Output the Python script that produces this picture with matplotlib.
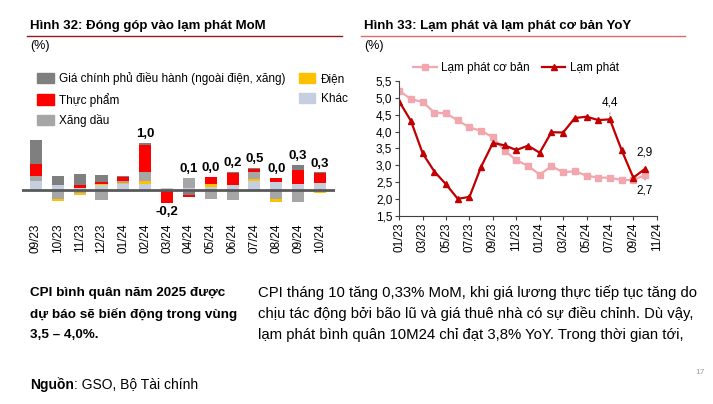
import matplotlib
matplotlib.use("Agg")
import matplotlib.pyplot as plt
import numpy as np
from matplotlib.patches import Patch
from matplotlib.lines import Line2D

W, H = 713, 404
plt.rcParams.update({"font.family": ["Liberation Sans", "DejaVu Sans"], "font.size": 8.5})

# ---- Hình 32: contributions to MoM inflation (pp) ----
months = ["09/23", "10/23", "11/23", "12/23", "01/24", "02/24", "03/24",
          "04/24", "05/24", "06/24", "07/24", "08/24", "09/24", "10/24"]
gia_cp = [0.52, 0.18, 0.26, 0.15, 0.03, 0.04, 0.00, -0.11, 0.00, 0.02, 0.02, 0.00, 0.11, 0.02]
thuc_pham = [0.27, 0.00, 0.05, 0.05, 0.10, 0.59, -0.30, -0.05, 0.15, 0.26, 0.07, 0.10, 0.30, 0.21]
xang_dau = [0.12, -0.20, -0.07, -0.24, 0.03, 0.22, 0.00, 0.21, -0.22, -0.24, 0.15, -0.22, -0.28, 0.00]
dien = [0.00, -0.06, -0.06, 0.02, 0.03, 0.05, 0.00, 0.00, 0.07, 0.00, 0.05, -0.05, 0.00, -0.07]
khac = [0.18, 0.11, 0.04, 0.10, 0.12, 0.13, 0.04, 0.04, 0.06, 0.11, 0.19, 0.16, 0.13, 0.15]
totals = [None, None, None, None, None, "1,0", "-0,2", "0,1", "0,0", "0,2", "0,5", "0,0", "0,3", "0,3"]

# ---- Hình 33: headline vs core inflation YoY (%) ----
cpi = [4.89, 4.31, 3.35, 2.81, 2.43, 2.00, 2.06, 2.96, 3.66, 3.59, 3.45, 3.58,
       3.37, 3.98, 3.97, 4.40, 4.44, 4.34, 4.36, 3.45, 2.63, 2.89]
core = [5.21, 4.96, 4.88, 4.56, 4.54, 4.33, 4.12, 4.02, 3.83, 3.43, 3.15, 2.98,
        2.72, 2.97, 2.79, 2.82, 2.69, 2.63, 2.63, 2.56, 2.56, 2.71]
line_ticks = ["01/23", "03/23", "05/23", "07/23", "09/23", "11/23",
              "01/24", "03/24", "05/24", "07/24", "09/24", "11/24"]

C_GCP, C_TP, C_XD, C_DIEN, C_KHAC = "#7F7F7F", "#FF0000", "#A6A6A6", "#FFC000", "#C6CFE0"


def fx(x):
    return x / W


def fy(y):
    return 1 - y / H


fig = plt.figure(figsize=(W / 100, H / 100), dpi=100)
fig.patch.set_facecolor("white")

# titles + rules
for x0, x1, txt, rc in [(30, 342, "Hình 32: Đóng góp vào lạm phát MoM", "#8E1B1F"),
                        (364, 685, "Hình 33: Lạm phát và lạm phát cơ bản YoY", "#E06A6A")]:
    fig.text(fx(x0), fy(26), txt, fontsize=9.5, fontweight="bold", va="center")
    fig.add_artist(Line2D([fx(x0 - 3), fx(x1)], [fy(36), fy(36)], color=rc, lw=1))
    fig.text(fx(x0), fy(46), "(%)", fontsize=9, va="center")

# ---- left: stacked bars ----
ax = fig.add_axes([fx(22), fy(218), fx(313), 93 / H])
x = np.arange(len(months))
pos_order = [(khac, C_KHAC), (dien, C_DIEN), (xang_dau, C_XD), (thuc_pham, C_TP), (gia_cp, C_GCP)]
neg_order = [(khac, C_KHAC), (gia_cp, C_GCP), (thuc_pham, C_TP), (xang_dau, C_XD), (dien, C_DIEN)]
pos_base = np.zeros(len(x))
neg_base = np.zeros(len(x))
for vals, c in pos_order:
    v = np.clip(np.array(vals), 0, None)
    ax.bar(x, v, bottom=pos_base, width=0.55, color=c, lw=0)
    pos_base += v
for vals, c in neg_order:
    v = np.clip(np.array(vals), None, 0)
    ax.bar(x, v, bottom=neg_base, width=0.55, color=c, lw=0)
    neg_base += v
ax.axhline(0, color="#595959", lw=2)
for i, t in enumerate(totals):
    if t is None:
        continue
    if t.startswith("-"):
        ax.annotate(t, (i, neg_base[i]), xytext=(0, -2), textcoords="offset points",
                    ha="center", va="top", fontsize=9.5, fontweight="bold")
    else:
        ax.annotate(t, (i, pos_base[i]), xytext=(0, 2), textcoords="offset points",
                    ha="center", va="bottom", fontsize=9.5, fontweight="bold")
ax.set_xlim(-0.64, 13.69)
ax.set_ylim(-0.63, 1.43)
ax.set_xticks(x)
ax.set_xticklabels(months, rotation=90, fontsize=8.5)
ax.tick_params(axis="x", length=0, pad=4)
ax.set_yticks([])
for s in ax.spines.values():
    s.set_visible(False)

handles = [Patch(color=C_GCP, label="Giá chính phủ điều hành (ngoài điện, xăng)"),
           Patch(color=C_TP, label="Thực phẩm"),
           Patch(color=C_XD, label="Xăng dầu"),
           Patch(color=C_DIEN, label="Điện"),
           Patch(color=C_KHAC, label="Khác")]
fig.legend(handles=handles, loc="upper left", bbox_to_anchor=(fx(37), fy(72)), ncol=2,
           frameon=False, fontsize=8.5, borderpad=0, borderaxespad=0,
           handlelength=1.4, handleheight=0.95, handletextpad=0.5,
           labelspacing=0.65, columnspacing=1.1)

# ---- right: lines ----
ax2 = fig.add_axes([fx(399.3), fy(215.7), fx(257.4), 134.7 / H])
mx = np.arange(len(cpi))
ax2.plot(mx, core, color="#F2A7AE", lw=1.6, marker="s", ms=4.5, label="Lạm phát cơ bản")
ax2.plot(mx, cpi, color="#C00000", lw=1.6, marker="^", ms=4.8, label="Lạm phát")
ax2.set_xlim(0, 22)
ax2.set_ylim(1.5, 5.5)
ax2.set_yticks(np.arange(1.5, 5.51, 0.5))
ax2.set_yticklabels([f"{v:.1f}".replace(".", ",") for v in np.arange(1.5, 5.51, 0.5)])
ax2.set_xticks(np.arange(0, 23, 2))
ax2.set_xticklabels(line_ticks, rotation=90)
ax2.tick_params(labelsize=8.5, length=3, width=0.8, color="#404040", pad=2)
for s in ["top", "right"]:
    ax2.spines[s].set_visible(False)
for s in ["left", "bottom"]:
    ax2.spines[s].set_color("#404040")
    ax2.spines[s].set_linewidth(0.8)
ax2.legend(loc="upper left", bbox_to_anchor=(fx(413), fy(62)), bbox_transform=fig.transFigure,
           ncol=2, frameon=False, fontsize=8.5, borderpad=0, borderaxespad=0,
           handlelength=2.0, handletextpad=0.4, columnspacing=1.0)
lead = dict(arrowstyle="-", color="#606060", lw=0.6, ls=":", shrinkA=1, shrinkB=3)
ax2.annotate("4,4", (18, cpi[18]), xytext=(0, 12), textcoords="offset points",
             ha="center", va="center", fontsize=8.5, arrowprops=lead)
ax2.annotate("2,9", (21, cpi[21]), xytext=(0, 11.5), textcoords="offset points",
             ha="center", va="center", fontsize=8.5)
ax2.annotate("2,7", (21, core[21]), xytext=(0, -11), textcoords="offset points",
             ha="center", va="center", fontsize=8.5, arrowprops=lead)

# ---- body text ----
left_lines = ["CPI bình quân năm 2025 được", "dự báo sẽ biến động trong vùng", "3,5 – 4,0%."]
right_lines = ["CPI tháng 10 tăng 0,33% MoM, khi giá lương thực tiếp tục tăng do",
               "chịu tác động bởi bão lũ và giá thuê nhà có sự điều chỉnh. Dù vậy,",
               "lạm phát bình quân 10M24 chỉ đạt 3,8% YoY. Trong thời gian tới,"]
for k, (a, b) in enumerate(zip(left_lines, right_lines)):
    yy = fy(293 + k * 21)
    fig.text(fx(30), yy, a, fontsize=9.7, fontweight="bold", va="center")
    fig.text(fx(258), yy, b, fontsize=10.7, va="center")
src = fig.text(fx(30), fy(385), "Nguồn", fontsize=10, fontweight="bold", va="center")
ax.annotate(": GSO, Bộ Tài chính", xy=(1, 0.5), xycoords=src, ha="left", va="center",
            fontsize=10, annotation_clip=False)
fig.text(fx(700), fy(373), "17", fontsize=6, color="#A0A0A0", va="center", ha="center")

fig.savefig("out.png", dpi=100)
